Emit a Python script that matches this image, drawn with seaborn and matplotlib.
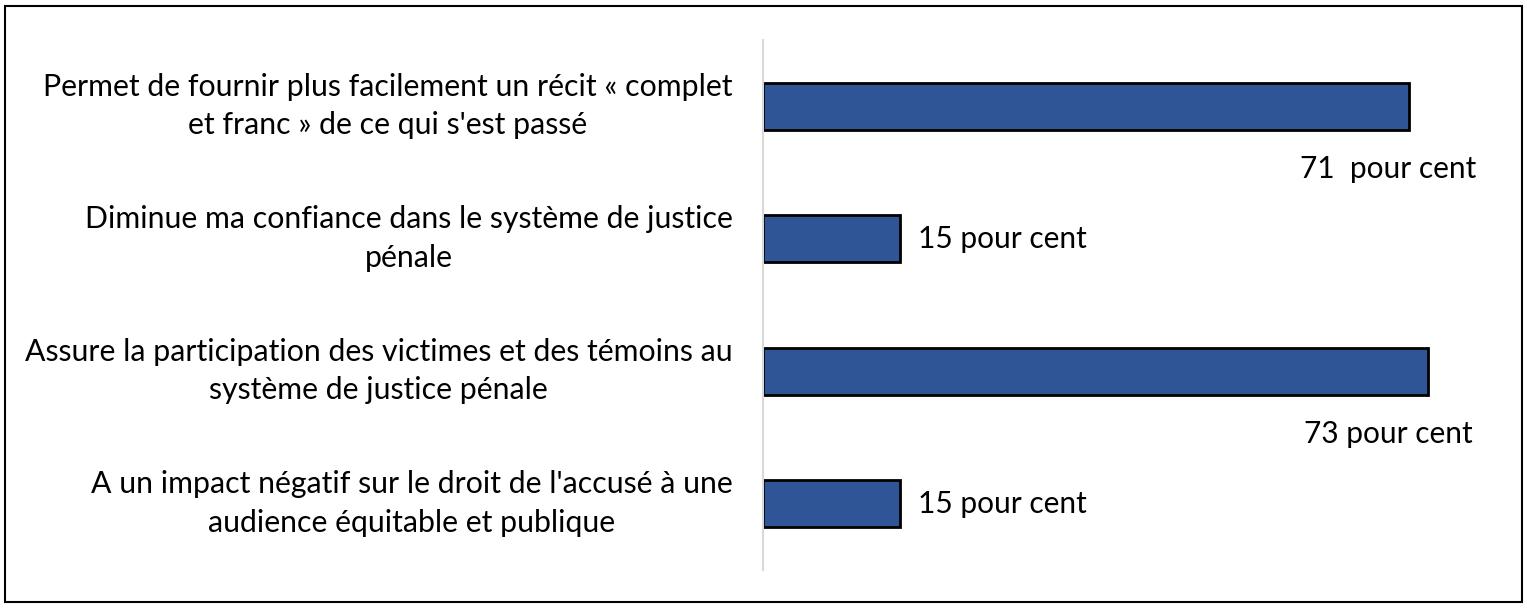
import pandas as pd
import seaborn as sns
import matplotlib
matplotlib.use('Agg')
import matplotlib.pyplot as plt
import matplotlib.transforms as mtransforms
from matplotlib.patches import Rectangle

categories = [
    "Permet de fournir plus facilement un récit « complet\net franc » de ce qui s'est passé",
    "Diminue ma confiance dans le système de justice\npénale",
    "Assure la participation des victimes et des témoins au\nsystème de justice pénale",
    "A un impact négatif sur le droit de l'accusé à une\naudience équitable et publique",
]
values = [71, 15, 73, 15]
value_labels = ["71  pour cent", "15 pour cent", "73 pour cent", "15 pour cent"]

sns.set_theme(style='white')
plt.rcParams['font.family'] = ['Lato', 'DejaVu Sans']
plt.rcParams['text.color'] = 'black'
plt.rcParams['ytick.color'] = 'black'

df = pd.DataFrame({'cat': categories, 'val': values})

fig = plt.figure(figsize=(15.27, 6.08), dpi=100)
ax = fig.add_axes([0.4997, 0.0625, 0.4823, 0.8717])

sns.barplot(data=df, x='val', y='cat', orient='h', color='#2F5597',
            saturation=1, width=0.355, edgecolor='black', linewidth=2, ax=ax)

ax.set_xlim(0, 80.9)
ax.set_ylim(3.5, -0.5)
ax.set_xlabel('')
ax.set_ylabel('')
ax.set_xticks([])
for s in ['top', 'right', 'bottom']:
    ax.spines[s].set_visible(False)
ax.spines['left'].set_color('#D9D9D9')
ax.spines['left'].set_linewidth(1.5)
ax.tick_params(axis='y', length=0, pad=22)
shift_up = mtransforms.ScaledTranslation(0, 8 / 100, fig.dpi_scale_trans)
for t in ax.get_yticklabels():
    t.set_fontsize(21.8)
    t.set_color('black')
    t.set_multialignment('center')
    t.set_linespacing(1.45)
    t.set_transform(t.get_transform() + shift_up)

# value labels: long bars get the label under the bar end, short ones to the right
long_x = max(values) - 4.3
for i, (v, lab) in enumerate(zip(values, value_labels)):
    if v > 50:
        ax.text(long_x, i + 0.47, lab, ha='center', va='center', fontsize=21.5)
    else:
        ax.text(v + 2, i, lab, ha='left', va='center', fontsize=21.5)

fig.patches.append(Rectangle((0.0035, 0.01), 0.993, 0.98, transform=fig.transFigure,
                             fill=False, edgecolor='black', linewidth=1.5))

fig.savefig('out.png', dpi=100)
